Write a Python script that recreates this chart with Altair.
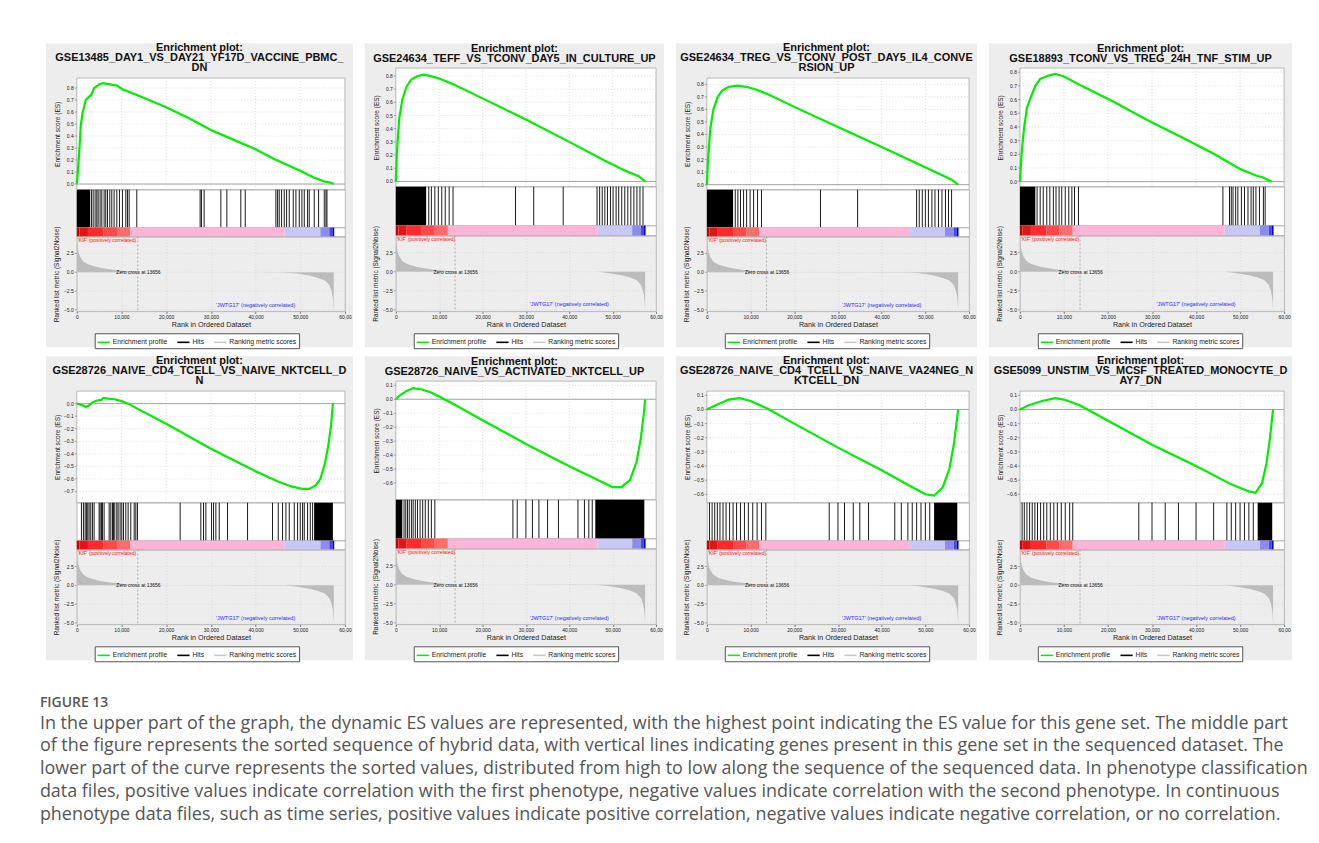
import altair as alt
import pandas as pd

FONT = "Liberation Sans"
X_MAX = 60000
X_TICKS = [0, 10000, 20000, 30000, 40000, 50000, 60000]

# ---------------- shared ranked list metric ----------------
METRIC_RANK = [0, 150, 400, 800, 1500, 2500, 3500, 5000, 6500, 8000, 10000, 12000, 13656,
               46500, 48000, 50000, 52000, 54000, 55500, 56500, 57000, 57300, 57500]
METRIC_VAL = [4.7, 3.6, 2.7, 2.0, 1.4, 1.05, 0.85, 0.62, 0.45, 0.33, 0.2, 0.08, 0.0,
              -0.02, -0.1, -0.25, -0.45, -0.75, -1.1, -1.7, -2.5, -3.4, -5.0]
METRIC_TICKS = [2.5, 0.0, -2.5, -5.0]
ZERO_CROSS = [13656]

STRIP_START = [0, 600, 2500, 6000, 9000, 12000, 46500, 54500, 56500, 57200]
STRIP_END = [600, 2500, 6000, 9000, 12000, 46500, 54500, 56500, 57200, 57600]
STRIP_LEVEL = ["p4", "p3", "p2", "p1", "p0", "z", "n0", "n1", "n2", "n3"]
STRIP_COLORS = ["#c80000", "#e41414", "#ff2a2a", "#ff4a4a", "#ff6c6c", "#ffb4d8",
                "#c8c8f8", "#8c8cf0", "#4848e0", "#0000c8"]

POS_LABEL = ["'KIF' (positively correlated)"]
NEG_LABEL = ["'JWTG17' (negatively correlated)"]
ZERO_LABEL = ["Zero cross at 13656"]
LEGEND_ITEMS = ["Enrichment profile", "Hits", "Ranking metric scores"]

# ---------------- panel 1 ----------------
P1_TITLE = ["Enrichment plot:", "GSE13485_DAY1_VS_DAY21_YF17D_VACCINE_PBMC_", "DN"]
P1_ES_RANK = [0, 300, 600, 900, 1300, 2000, 2800, 3200, 3900, 5000, 5800, 7500, 9000, 10200,
              13600, 20000, 25000, 30000, 35000, 40000, 44000, 47000, 50000, 53000, 55500, 56500, 57500]
P1_ES = [0.0, 0.13, 0.3, 0.49, 0.59, 0.70, 0.73, 0.74, 0.80, 0.83, 0.84, 0.83, 0.82, 0.79,
         0.74, 0.64, 0.55, 0.45, 0.37, 0.29, 0.21, 0.16, 0.11, 0.055, 0.02, 0.015, 0.0]
P1_ES_DOMAIN = [-0.047, 0.883]
P1_ES_TICKS = [0.0, 0.1, 0.2, 0.3, 0.4, 0.5, 0.6, 0.7, 0.8]
P1_BLK_S = [0]
P1_BLK_E = [3000]
P1_HITS = [3280, 3660, 4100, 4480, 4780, 5220, 5600, 6120, 6490, 6870, 7390, 7840, 8360, 8960,
           9550, 10220, 10970, 11340, 11720, 13430, 27600, 27900, 28500, 32240, 33580, 36700,
           37690, 44550, 44930, 45300, 45820, 46420, 46940, 47540, 48430, 49030, 49780, 50370,
           50900, 51640, 52010, 53130, 54100, 55370, 55750, 55970]

# ---------------- panel 2 ----------------
P2_TITLE = ["Enrichment plot:", "GSE24634_TEFF_VS_TCONV_DAY5_IN_CULTURE_UP"]
P2_ES_RANK = [0, 300, 800, 1500, 2500, 3500, 5000, 6500, 8000, 10000, 13000, 20000, 30000,
              40000, 48000, 53000, 56000, 57500]
P2_ES = [0.0, 0.25, 0.48, 0.62, 0.72, 0.77, 0.80, 0.81, 0.80, 0.78, 0.74, 0.63, 0.47,
         0.30, 0.16, 0.08, 0.04, 0.0]
P2_ES_DOMAIN = [-0.04, 0.86]
P2_ES_TICKS = [0.0, 0.1, 0.2, 0.3, 0.4, 0.5, 0.6, 0.7, 0.8]
P2_BLK_S = [0]
P2_BLK_E = [7000]
P2_HITS = [7600, 8200, 9000, 9800, 10600, 11400, 12300, 13200, 27600, 31800, 38600, 46400,
           47000, 47600, 48200, 48800, 49500, 50100, 50800, 51400, 52100, 52800, 53500, 54200,
           54900, 55600, 56300, 57000]

# ---------------- panel 3 ----------------
P3_TITLE = ["Enrichment plot:", "GSE24634_TREG_VS_TCONV_POST_DAY5_IL4_CONVE", "RSION_UP"]
P3_ES_RANK = [0, 300, 800, 1500, 2500, 3500, 5000, 7000, 9000, 11000, 14000, 20000, 30000,
              40000, 48000, 53000, 56000, 57500]
P3_ES = [0.0, 0.22, 0.45, 0.6, 0.7, 0.75, 0.78, 0.79, 0.78, 0.76, 0.72, 0.62, 0.46,
         0.30, 0.17, 0.09, 0.04, 0.0]
P3_ES_DOMAIN = [-0.04, 0.85]
P3_ES_TICKS = [0.0, 0.1, 0.2, 0.3, 0.4, 0.5, 0.6, 0.7, 0.8]
P3_BLK_S = [0]
P3_BLK_E = [6000]
P3_HITS = [6500, 7100, 7700, 8400, 9100, 9900, 10700, 11600, 12500, 26000, 34500, 48000,
           48600, 49300, 50000, 50700, 51500, 52200, 53000, 53800, 54600, 55300, 56000]

# ---------------- panel 4 ----------------
P4_TITLE = ["Enrichment plot:", "GSE18893_TCONV_VS_TREG_24H_TNF_STIM_UP"]
P4_ES_RANK = [0, 370, 900, 1600, 2400, 3500, 4600, 6500, 8000, 9900, 14000, 21500, 28900,
              36400, 43900, 49900, 53600, 55100, 55900, 57200]
P4_ES = [0.0, 0.2, 0.38, 0.54, 0.61, 0.70, 0.75, 0.775, 0.787, 0.77, 0.70, 0.58, 0.45,
         0.33, 0.205, 0.094, 0.045, 0.032, 0.02, 0.0]
P4_ES_DOMAIN = [-0.037, 0.83]
P4_ES_TICKS = [0.0, 0.1, 0.2, 0.3, 0.4, 0.5, 0.6, 0.7, 0.8]
P4_BLK_S = [0]
P4_BLK_E = [3500]
P4_HITS = [3900, 4600, 5300, 6100, 6800, 7600, 8200, 8900, 9500, 10300, 11100, 11800, 12400,
           13300, 46100, 47600, 48000, 48400, 49000, 49500, 50300, 51000, 51800, 52500, 53000,
           53600, 54400, 55300, 55700]

# ---------------- panel 5 ----------------
P5_TITLE = ["Enrichment plot:", "GSE28726_NAIVE_CD4_TCELL_VS_NAIVE_NKTCELL_D", "N"]
P5_ES_RANK = [0, 1000, 2000, 2500, 3500, 4500, 5500, 6000, 7000, 8500, 10000, 11500, 13500,
              20000, 25000, 30000, 35000, 40000, 45000, 48000, 50500, 52000, 53500, 54500,
              55500, 56300, 56900, 57300]
P5_ES = [0.0, -0.01, -0.025, -0.02, 0.01, 0.025, 0.03, 0.045, 0.04, 0.035, 0.02, 0.0, -0.04,
         -0.16, -0.26, -0.36, -0.45, -0.54, -0.62, -0.66, -0.68, -0.68, -0.65, -0.6,
         -0.48, -0.33, -0.17, 0.0]
P5_ES_DOMAIN = [-0.79, 0.10]
P5_ES_TICKS = [0.0, -0.1, -0.2, -0.3, -0.4, -0.5, -0.6, -0.7]
P5_BLK_S = [53100]
P5_BLK_E = [57300]
P5_HITS = [1045, 1490, 1870, 2160, 2460, 2760, 3130, 3510, 3880, 5000, 5220, 5520, 5750, 6120,
           7240, 7610, 7990, 8210, 8510, 8960, 9250, 9700, 10070, 10450, 10970, 11490, 12090,
           12840, 13210, 13580, 23130, 27760, 28360, 28880, 30150, 30600, 31120, 31870, 33730,
           38210, 43800, 45070, 46040, 46790, 47540, 48660, 49400, 50000, 50520, 50900, 51640,
           52240, 52760]

# ---------------- panel 6 ----------------
P6_TITLE = ["Enrichment plot:", "GSE28726_NAIVE_VS_ACTIVATED_NKTCELL_UP"]
P6_ES_RANK = [0, 1000, 2500, 4000, 6000, 8000, 10000, 13600, 20000, 30000, 40000, 46000,
              50000, 52000, 54000, 55500, 56500, 57200, 57500]
P6_ES = [0.0, 0.03, 0.06, 0.08, 0.07, 0.05, 0.02, -0.04, -0.15, -0.32, -0.48, -0.57,
         -0.63, -0.63, -0.58, -0.45, -0.28, -0.1, 0.0]
P6_ES_DOMAIN = [-0.72, 0.13]
P6_ES_TICKS = [0.1, 0.0, -0.1, -0.2, -0.3, -0.4, -0.5, -0.6]
P6_BLK_S = [0, 46000]
P6_BLK_E = [1500, 57300]
P6_HITS = [1900, 2300, 2700, 3100, 3600, 4000, 4500, 5000, 5600, 6200, 6800, 7500, 8200, 9000,
           27000, 28000, 30000, 31500, 33000, 35000, 37500, 42000, 43500, 44500, 45300]

# ---------------- panel 7 ----------------
P7_TITLE = ["Enrichment plot:", "GSE28726_NAIVE_CD4_TCELL_VS_NAIVE_VA24NEG_N", "KTCELL_DN"]
P7_ES_RANK = [0, 2000, 5000, 7500, 10000, 13600, 20000, 30000, 40000, 47000, 50000, 52000,
              54000, 55500, 56500, 57200, 57500]
P7_ES = [0.0, 0.03, 0.07, 0.08, 0.06, 0.01, -0.1, -0.27, -0.43, -0.55, -0.6, -0.61,
         -0.55, -0.42, -0.25, -0.08, 0.0]
P7_ES_DOMAIN = [-0.66, 0.13]
P7_ES_TICKS = [0.1, 0.0, -0.1, -0.2, -0.3, -0.4, -0.5, -0.6]
P7_BLK_S = [52000]
P7_BLK_E = [57300]
P7_HITS = [600, 1200, 1800, 2400, 3000, 3700, 4400, 5200, 6000, 6800, 7700, 8600, 9500, 10500,
           11500, 12500, 13500, 28000, 30000, 31500, 33500, 35000, 37000, 43000, 44500, 46000,
           47000, 48000, 49000, 50000, 51000]

# ---------------- panel 8 ----------------
P8_TITLE = ["Enrichment plot:", "GSE5099_UNSTIM_VS_MCSF_TREATED_MONOCYTE_D", "AY7_DN"]
P8_ES_RANK = [0, 2000, 5000, 8000, 10000, 13600, 20000, 30000, 40000, 48000, 52000, 53500,
              55000, 56000, 56800, 57300, 57500]
P8_ES = [0.0, 0.03, 0.06, 0.08, 0.07, 0.03, -0.08, -0.25, -0.4, -0.53, -0.58, -0.59,
         -0.52, -0.38, -0.2, -0.05, 0.0]
P8_ES_DOMAIN = [-0.66, 0.13]
P8_ES_TICKS = [0.1, 0.0, -0.1, -0.2, -0.3, -0.4, -0.5, -0.6]
P8_BLK_S = [54000]
P8_BLK_E = [57300]
P8_HITS = [500, 1000, 1600, 2200, 2800, 3400, 4000, 4700, 5400, 6100, 6900, 7700, 8500, 9400,
           10300, 11300, 12000, 27000, 30000, 33000, 36000, 40000, 44000, 47000, 48000, 49000,
           50000, 51000, 52000, 53000]

CAPTION_LABEL = "FIGURE 13"
CAPTION_LINES = [
    "In the upper part of the graph, the dynamic ES values are represented, with the highest point indicating the ES value for this gene set. The middle part",
    "of the figure represents the sorted sequence of hybrid data, with vertical lines indicating genes present in this gene set in the sequenced dataset. The",
    "lower part of the curve represents the sorted values, distributed from high to low along the sequence of the sequenced data. In phenotype classification",
    "data files, positive values indicate correlation with the first phenotype, negative values indicate correlation with the second phenotype. In continuous",
    "phenotype data files, such as time series, positive values indicate positive correlation, negative values indicate negative correlation, or no correlation.",
]

PANEL_W = [308, 300, 302, 304]
PANEL_H = 305
LEFT_OFF = 31
TOP_OFF = 35
GRID_COLOR = "#d2d2d2"


def y_ticks_layers(field, ticks, scale, plot_w, fmt):
    df = pd.DataFrame({field: ticks})
    grid = alt.Chart(df).mark_rule(color=GRID_COLOR, strokeDash=[1, 2], strokeWidth=0.7).encode(
        y=alt.Y(f"{field}:Q", scale=scale), x=alt.value(0), x2=alt.value(plot_w))
    tick = alt.Chart(df).mark_rule(color="#777777", strokeWidth=0.6).encode(
        y=alt.Y(f"{field}:Q", scale=scale), x=alt.value(-2), x2=alt.value(0))
    lab = alt.Chart(df).mark_text(align="right", baseline="middle", font=FONT, fontSize=5,
                                  color="#222222").encode(
        y=alt.Y(f"{field}:Q", scale=scale), x=alt.value(-3),
        text=alt.Text(f"{field}:Q", format=fmt))
    return grid, tick, lab


def make_panel(title, es_rank, es_val, es_dom, es_ticks, hits, blk_s, blk_e, pw):
    three = len(title) == 3
    y_top = 0 if three else -10          # visual top of the ES plot (2-line titles give a taller plot)
    es_h = 112 if three else 109
    hits_h = 38 if three else 39
    strip_h = 9 if three else 10
    met_h = 75 if three else 76
    plot_w = pw - 39
    met_top = TOP_OFF + es_h + hits_h + strip_h
    xs = alt.Scale(domain=[0, X_MAX], nice=False, zero=False)
    one = pd.DataFrame({"k": [0]})

    bg = alt.Chart(one).mark_rect(color="#ededed").encode(
        x=alt.value(-LEFT_OFF), x2=alt.value(plot_w + 8),
        y=alt.value(-TOP_OFF), y2=alt.value(PANEL_H - TOP_OFF))
    frame = alt.Chart(one).mark_rect(fill="white", stroke="#a8a8a8", strokeWidth=0.8).encode(
        x=alt.value(0), x2=alt.value(plot_w), y=alt.value(y_top), y2=alt.value(es_h))
    ys = alt.Scale(domain=es_dom, range=[es_h, y_top], nice=False, zero=False)
    vgrid = alt.Chart(pd.DataFrame({"rank": X_TICKS})).mark_rule(
        color=GRID_COLOR, strokeDash=[1, 2], strokeWidth=0.7).encode(
        x=alt.X("rank:Q", scale=xs, axis=None), y=alt.value(y_top), y2=alt.value(es_h))
    hgrid, ytick, ylab = y_ticks_layers("es", es_ticks, ys, plot_w, ".1f")
    zero = alt.Chart(pd.DataFrame({"es": [0.0]})).mark_rule(color="#9a9a9a", strokeWidth=0.9).encode(
        y=alt.Y("es:Q", scale=ys))
    line = alt.Chart(pd.DataFrame({"rank": es_rank, "es": es_val})).mark_line(
        color="#00ee00", strokeWidth=2.2).encode(
        x=alt.X("rank:Q", scale=xs, axis=None),
        y=alt.Y("es:Q", scale=ys, axis=alt.Axis(
            labels=False, ticks=False, domain=False, grid=False,
            title="Enrichment score (ES)", titleFont=FONT, titleFontSize=6.5,
            titleFontWeight="normal", titleColor="#222", titlePadding=16,
            titleY=(es_h + y_top) / 2, zindex=1)))
    es_chart = alt.layer(bg, frame, vgrid, hgrid, zero, ytick, ylab, line).properties(
        width=plot_w, height=es_h,
        title=alt.TitleParams(title, font=FONT, fontSize=11, fontWeight="bold", color="#111",
                              offset=-30 if three else -21, lineHeight=10.2,
                              anchor="middle", frame="bounds", zindex=1))

    # hits
    blocks = alt.Chart(pd.DataFrame({"s": blk_s, "e": blk_e})).mark_rect(color="#000000").encode(
        x=alt.X("s:Q", scale=xs, axis=None), x2="e:Q")
    hit_lines = alt.Chart(pd.DataFrame({"s": hits})).mark_rule(color="#000000", strokeWidth=0.9).encode(
        x=alt.X("s:Q", scale=xs, axis=None))
    hits_chart = alt.layer(blocks, hit_lines).properties(width=plot_w, height=hits_h)

    # colour strip
    strip = alt.Chart(pd.DataFrame({"s": STRIP_START, "e": STRIP_END, "lvl": STRIP_LEVEL})).mark_rect().encode(
        x=alt.X("s:Q", scale=xs, axis=None), x2="e:Q",
        fill=alt.Fill("lvl:N", scale=alt.Scale(domain=STRIP_LEVEL, range=STRIP_COLORS), legend=None)
    ).properties(width=plot_w, height=strip_h)

    # ranked list metric
    ms = alt.Scale(domain=[-5.2, 4.75], nice=False, zero=False)
    m_hgrid, m_tick, m_lab = y_ticks_layers("m", METRIC_TICKS, ms, plot_w, ".1f")
    area = alt.Chart(pd.DataFrame({"rank": METRIC_RANK, "m": METRIC_VAL})).mark_area(
        color="#bcbcbc", clip=True).encode(
        x=alt.X("rank:Q", scale=xs, axis=alt.Axis(
            values=X_TICKS, labelExpr="datum.value == 60000 ? '60,00' : format(datum.value, ',')",
            labelFont=FONT, labelFontSize=5, labelColor="#222", labelPadding=1, tickSize=2,
            tickColor="#777", domain=False, grid=True, gridColor=GRID_COLOR, gridDash=[1, 2],
            gridWidth=0.7, labelOverlap=False, labelFlush=False,
            title="Rank in Ordered Dataset", titleFont=FONT, titleFontSize=7.2,
            titleFontWeight="normal", titleColor="#222", titlePadding=1)),
        y=alt.Y("m:Q", scale=ms, axis=alt.Axis(
            labels=False, ticks=False, domain=False, grid=False,
            title="Ranked list metric (Signal2Noise)", titleFont=FONT, titleFontSize=6.5,
            titleFontWeight="normal", titleColor="#222", titlePadding=17)),
        y2=alt.datum(0))
    zc = alt.Chart(pd.DataFrame({"rank": ZERO_CROSS})).mark_rule(
        color="#a0a0a0", strokeDash=[2, 2], strokeWidth=0.8).encode(x=alt.X("rank:Q", scale=xs))
    pos_t = alt.Chart(pd.DataFrame({"rank": [250], "m": [4.6], "t": POS_LABEL})).mark_text(
        align="left", baseline="top", font=FONT, fontSize=5, color="#ff1010").encode(
        x=alt.X("rank:Q", scale=xs), y=alt.Y("m:Q", scale=ms), text="t:N")
    zero_t = alt.Chart(pd.DataFrame({"rank": [13800], "m": [0.0], "t": ZERO_LABEL})).mark_text(
        align="center", baseline="middle", font=FONT, fontSize=5, color="#111").encode(
        x=alt.X("rank:Q", scale=xs), y=alt.Y("m:Q", scale=ms), text="t:N")
    neg_t = alt.Chart(pd.DataFrame({"rank": [40000], "m": [-4.3], "t": NEG_LABEL})).mark_text(
        align="center", baseline="middle", font=FONT, fontSize=5.5, color="#2a2aff").encode(
        x=alt.X("rank:Q", scale=xs), y=alt.Y("m:Q", scale=ms), text="t:N")
    leg = alt.Chart(pd.DataFrame({"series": LEGEND_ITEMS})).mark_point(opacity=0, size=1).encode(
        color=alt.Color("series:N", scale=alt.Scale(domain=LEGEND_ITEMS,
                                                    range=["#00ee00", "#000000", "#c8c8c8"]),
                        legend=alt.Legend(
                            orient="none", legendX=18, legendY=291 - met_top, direction="horizontal",
                            title=None, symbolType="stroke", symbolSize=150, symbolStrokeWidth=1.6,
                            symbolOpacity=1, labelFont=FONT, labelFontSize=6.8, labelColor="#222",
                            fillColor="white", strokeColor="#555", padding=2, columnPadding=6,
                            labelOffset=2)))
    met_chart = alt.layer(area, m_hgrid, zc, m_tick, m_lab, pos_t, zero_t, neg_t, leg).properties(
        width=plot_w, height=met_h)

    return alt.vconcat(es_chart, hits_chart, strip, met_chart, spacing=0, bounds="flush"
                       ).resolve_legend(color="independent", fill="independent")


P_SPECS = [
    (P1_TITLE, P1_ES_RANK, P1_ES, P1_ES_DOMAIN, P1_ES_TICKS, P1_HITS, P1_BLK_S, P1_BLK_E),
    (P2_TITLE, P2_ES_RANK, P2_ES, P2_ES_DOMAIN, P2_ES_TICKS, P2_HITS, P2_BLK_S, P2_BLK_E),
    (P3_TITLE, P3_ES_RANK, P3_ES, P3_ES_DOMAIN, P3_ES_TICKS, P3_HITS, P3_BLK_S, P3_BLK_E),
    (P4_TITLE, P4_ES_RANK, P4_ES, P4_ES_DOMAIN, P4_ES_TICKS, P4_HITS, P4_BLK_S, P4_BLK_E),
    (P5_TITLE, P5_ES_RANK, P5_ES, P5_ES_DOMAIN, P5_ES_TICKS, P5_HITS, P5_BLK_S, P5_BLK_E),
    (P6_TITLE, P6_ES_RANK, P6_ES, P6_ES_DOMAIN, P6_ES_TICKS, P6_HITS, P6_BLK_S, P6_BLK_E),
    (P7_TITLE, P7_ES_RANK, P7_ES, P7_ES_DOMAIN, P7_ES_TICKS, P7_HITS, P7_BLK_S, P7_BLK_E),
    (P8_TITLE, P8_ES_RANK, P8_ES, P8_ES_DOMAIN, P8_ES_TICKS, P8_HITS, P8_BLK_S, P8_BLK_E),
]

panels = [make_panel(*spec, PANEL_W[i % 4]) for i, spec in enumerate(P_SPECS)]
row1 = alt.hconcat(*panels[:4], spacing=10).resolve_legend(color="independent", fill="independent")
row2 = alt.hconcat(*panels[4:], spacing=10).resolve_legend(color="independent", fill="independent")
grid = alt.vconcat(row1, row2, spacing=5).resolve_legend(color="independent", fill="independent")

cap_df = pd.DataFrame({"i": list(range(1, len(CAPTION_LINES) + 1)), "t": CAPTION_LINES})
caption = alt.Chart(cap_df).mark_text(
    align="left", baseline="middle", font="Open Sans", fontSize=18, color="#555555").encode(
    x=alt.value(-LEFT_OFF - 6),
    y=alt.Y("i:O", axis=None, scale=alt.Scale(paddingInner=0, paddingOuter=0)),
    text="t:N").properties(
    width=1200, height=23 * len(CAPTION_LINES),
    view=alt.ViewBackground(stroke="transparent", fill="white"),
    title=alt.TitleParams(CAPTION_LABEL, anchor="start", frame="bounds", font="Open Sans",
                          fontSize=14, fontWeight=600, color="#555555", offset=2))

chart = alt.vconcat(grid, caption, spacing=33).resolve_legend(
    color="independent", fill="independent").properties(
    padding={"left": 39, "top": 40, "right": 10, "bottom": 5}
).configure(background="white").configure_view(stroke="#a8a8a8", strokeWidth=0.8, fill="white")

chart.save("out.html", embed_options={"renderer": "svg", "actions": False})
